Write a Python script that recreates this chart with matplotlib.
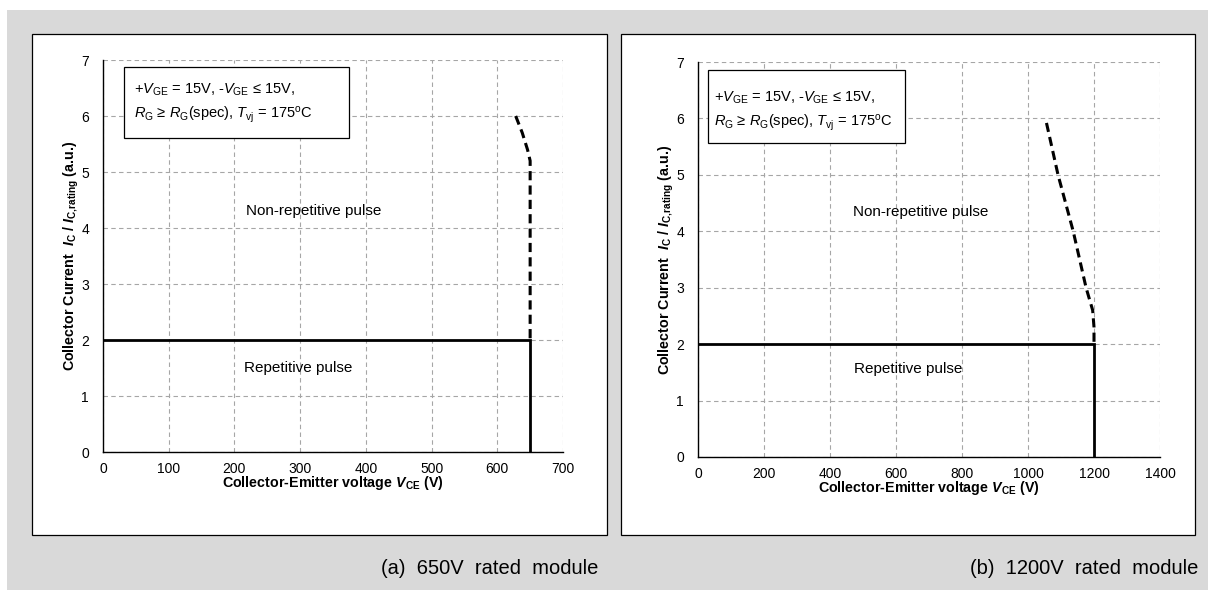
import matplotlib
matplotlib.use('Agg')
import matplotlib.pyplot as plt
from matplotlib.patches import Rectangle

plt.rcParams['font.family'] = ['Liberation Sans', 'DejaVu Sans']
plt.rcParams['mathtext.fontset'] = 'custom'
plt.rcParams['mathtext.rm'] = 'Liberation Sans'
plt.rcParams['mathtext.it'] = 'Liberation Sans:italic'
plt.rcParams['mathtext.bf'] = 'Liberation Sans:bold'
plt.rcParams['mathtext.bfit'] = 'Liberation Sans:italic:bold'

# 650V module: repetitive limit and non-repetitive (dashed) limit
v650_rep = [0, 650, 650]
i650_rep = [2.0, 2.0, 0.0]
v650_nonrep = [628, 638, 646, 650, 650]
i650_nonrep = [6.0, 5.7, 5.4, 5.2, 2.0]

# 1200V module
v1200_rep = [0, 1200, 1200]
i1200_rep = [2.0, 2.0, 0.0]
v1200_nonrep = [1056, 1091, 1137, 1176, 1196, 1200, 1200]
i1200_nonrep = [5.92, 5.0, 4.0, 3.0, 2.6, 2.3, 2.0]

yticks = [0, 1, 2, 3, 4, 5, 6, 7]
xticks_650 = [0, 100, 200, 300, 400, 500, 600, 700]
xticks_1200 = [0, 200, 400, 600, 800, 1000, 1200, 1400]

W, H = 1208, 590
fig = plt.figure(figsize=(W / 100, H / 100), dpi=100)


def px_rect(x0, y0, x1, y1):
    # pixel box (from top-left) -> figure fraction [left, bottom, width, height]
    return [x0 / W, 1 - y1 / H, (x1 - x0) / W, (y1 - y0) / H]


# grey backdrop and the two white frames
l, b, w, h = px_rect(7, 10, W, H)
fig.patches.append(Rectangle((l, b), w, h, transform=fig.transFigure,
                             facecolor='#d9d9d9', edgecolor='none', zorder=0))
for x0, x1 in [(32, 607), (621, 1195)]:
    l, b, w, h = px_rect(x0, 34, x1, 535)
    fig.patches.append(Rectangle((l, b), w, h, transform=fig.transFigure,
                                 facecolor='white', edgecolor='black', lw=0.9, zorder=1))


def draw_panel(rect, v_rep, i_rep, v_nr, i_nr, xticks, box, txt_pos, nonrep_pos, rep_pos):
    ax = fig.add_axes(rect)
    ax.set_zorder(2)
    ax.set_xlim(xticks[0], xticks[-1])
    ax.set_ylim(0, 7)
    ax.set_xticks(xticks)
    ax.set_yticks(yticks)
    ax.grid(True, color='#a6a6a6', linestyle=(0, (4, 3)), linewidth=0.8)
    ax.set_axisbelow(True)
    ax.spines['top'].set_visible(False)
    ax.spines['right'].set_visible(False)
    ax.spines['left'].set_linewidth(1.0)
    ax.spines['bottom'].set_linewidth(1.0)
    ax.tick_params(axis='x', length=0, labelsize=10, pad=7)
    ax.tick_params(axis='y', length=0, labelsize=10, pad=10)

    ax.plot(v_rep, i_rep, color='black', linewidth=2.0, solid_joinstyle='miter', zorder=5)
    ax.plot(v_nr, i_nr, color='black', linewidth=2.2, linestyle=(0, (3.0, 1.7)), zorder=5)

    ax.text(nonrep_pos[0], nonrep_pos[1], 'Non-repetitive pulse', fontsize=11,
            ha='center', va='center')
    ax.text(rep_pos[0], rep_pos[1], 'Repetitive pulse', fontsize=11,
            ha='center', va='center')

    bx0, by0, bx1, by1 = box
    ax.add_patch(Rectangle((bx0, by0), bx1 - bx0, by1 - by0, transform=ax.transAxes,
                           facecolor='white', edgecolor='black', linewidth=0.9, zorder=6))
    ax.text(txt_pos[0], txt_pos[1],
            r'+$V_{\mathrm{GE}}$ = 15V, -$V_{\mathrm{GE}}$ ≤ 15V,',
            transform=ax.transAxes, fontsize=10.5, va='center', zorder=7)
    ax.text(txt_pos[0], txt_pos[1] - 0.064,
            r'$R_{\mathrm{G}}$ ≥ $R_{\mathrm{G}}$(spec), $T_{\mathrm{vj}}$ = 175$^{\mathrm{o}}$C',
            transform=ax.transAxes, fontsize=10.5, va='center', zorder=7)

    ax.set_xlabel(r'Collector-Emitter voltage $\mathbfit{V}_{\mathbf{CE}}$ (V)',
                  fontsize=10.3, fontweight='bold', labelpad=-1)
    ax.set_ylabel(r'Collector Current  $\mathbfit{I}_{\mathbf{C}}$ / $\mathbfit{I}_{\mathbf{C{,}rating}}$ (a.u.)',
                  fontsize=10.3, fontweight='bold', labelpad=0)
    return ax


draw_panel(px_rect(103, 60, 563, 452), v650_rep, i650_rep, v650_nonrep, i650_nonrep,
           xticks_650, (0.046, 0.801, 0.535, 0.982), (0.067, 0.925),
           (320, 4.3), (297, 1.5))
draw_panel(px_rect(698, 62, 1160, 457), v1200_rep, i1200_rep, v1200_nonrep, i1200_nonrep,
           xticks_1200, (0.022, 0.795, 0.448, 0.98), (0.035, 0.91),
           (676, 4.34), (636, 1.56))

fig.text(598 / W, 1 - 568 / H, '(a)  650V  rated  module', fontsize=14.5,
         ha='right', va='center')
fig.text(1198 / W, 1 - 568 / H, '(b)  1200V  rated  module', fontsize=14.5,
         ha='right', va='center')

fig.savefig('out.png', dpi=100)
